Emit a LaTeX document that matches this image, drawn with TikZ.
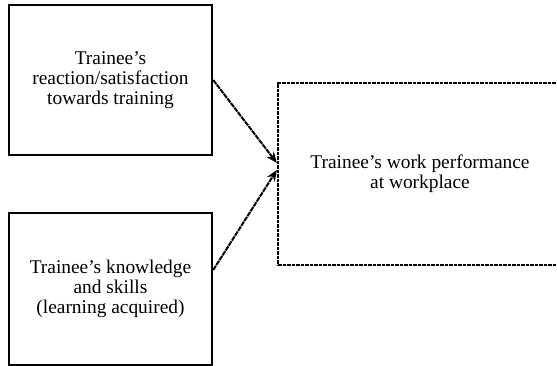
\documentclass[tikz,border=0pt]{standalone}
\usepackage{fontspec}
\setmainfont{Liberation Serif}
\usetikzlibrary{arrows.meta,calc}
\begin{document}
\begin{tikzpicture}[x=1pt,y=-1pt,
  boxtext/.style={inner sep=0pt,align=center,font=\fontsize{19.4}{20}\selectfont},
  solidbox/.style={boxtext,draw=black,line width=2.4pt},
  dashbox/.style={boxtext,draw=black,line width=2.3pt,dash pattern=on 3.5pt off 1pt},
  arr/.style={line width=2pt,dash pattern=on 5pt off 0.8pt,-{Stealth[length=11pt,width=9pt]}}]
\useasboundingbox (0,0) rectangle (557,366);
\clip (0,0) rectangle (557,366);
\fill[white] (0,0) rectangle (557,366);
\node[solidbox,minimum width=203pt,minimum height=150pt] (b1) at (110.5,80)
  {Trainee’s\\reaction/satisfaction\\towards training};
\node[solidbox,minimum width=203pt,minimum height=152pt] (b2) at (110.5,289)
  {Trainee’s knowledge\\and skills\\(learning acquired)};
\node[dashbox,minimum width=284pt,minimum height=182pt] (b3) at (420,174)
  {Trainee’s work performance\\at workplace};
\coordinate (t1) at ($(b3.west)+(0,-11)$);
\coordinate (t2) at ($(b3.west)+(0,-4)$);
\coordinate (s2) at ($(b2.east)+(0,-19)$);
\draw[arr] (b1.east) -- (t1);
\draw[arr] (s2) -- (t2);
\end{tikzpicture}
\end{document}
